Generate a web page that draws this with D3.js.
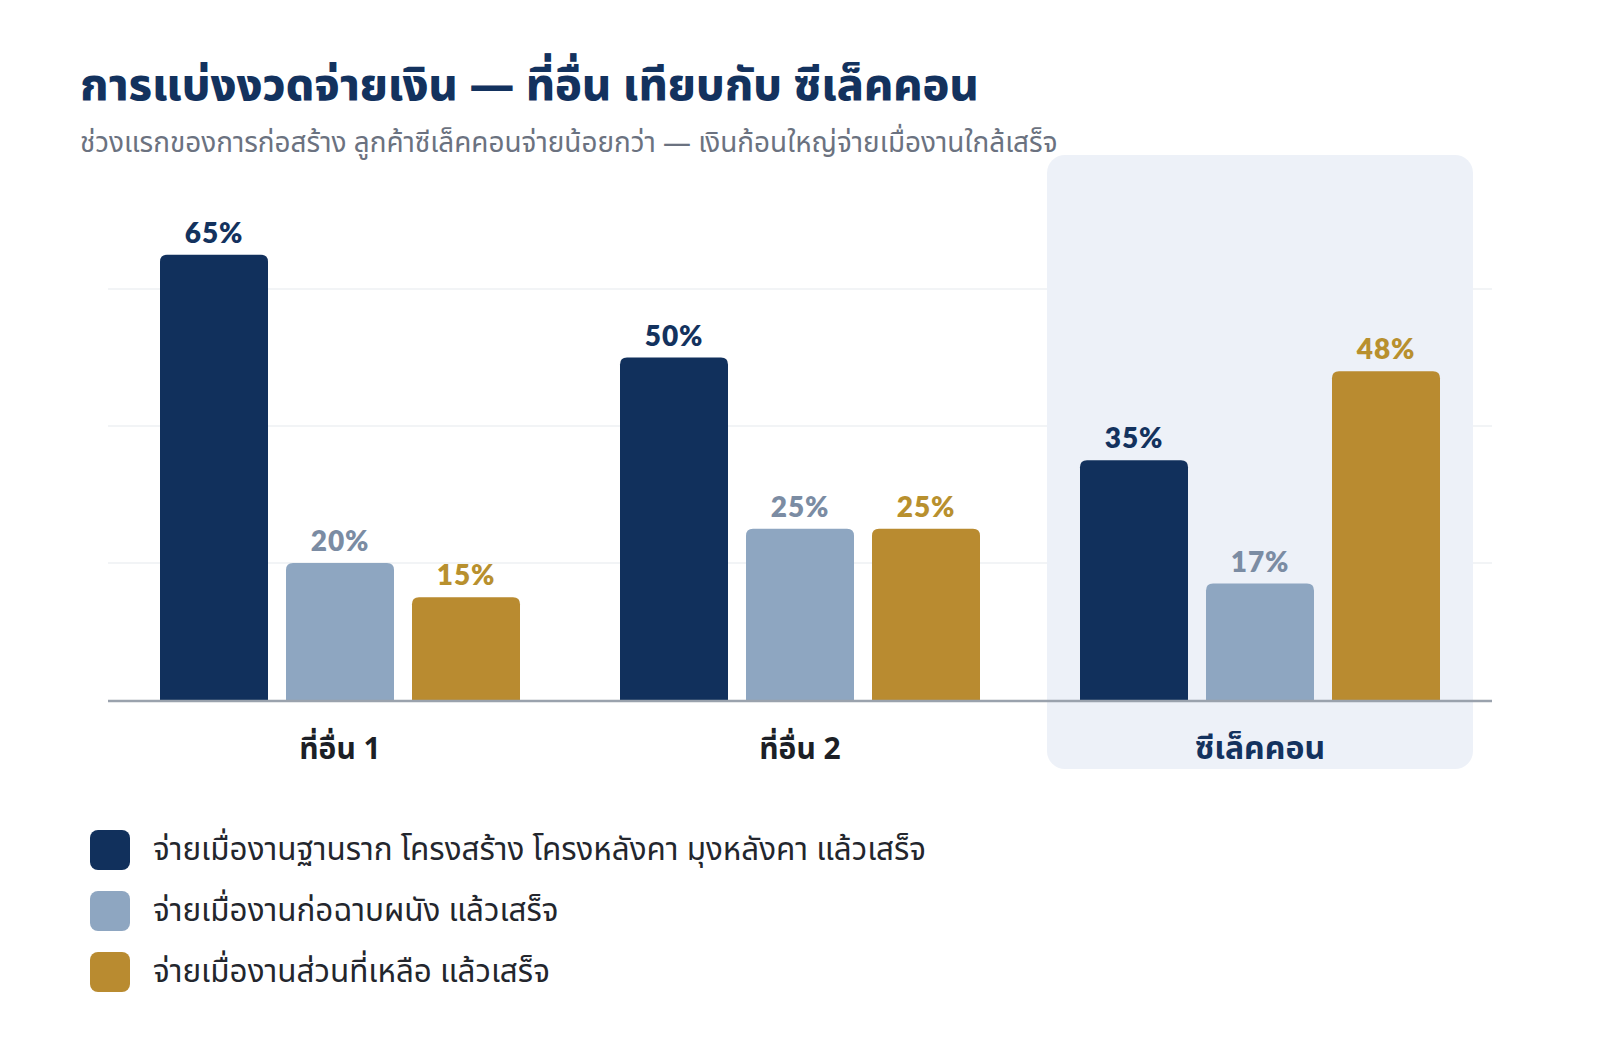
<!DOCTYPE html>
<html>
<head>
<meta charset="utf-8">
<script src="https://cdn.jsdelivr.net/npm/d3@7"></script>
<style>
  body { margin: 0; background: #fff; }
  svg { display: block; }
</style>
</head>
<body>
<div id="vis"></div>
<script>
///////data/////////////////////////////////////////////////
var categories = ["ที่อื่น 1", "ที่อื่น 2", "ซีเล็คคอน"];
var seriesNames = [
  "จ่ายเมื่องานฐานราก โครงสร้าง โครงหลังคา มุงหลังคา แล้วเสร็จ",
  "จ่ายเมื่องานก่อฉาบผนัง แล้วเสร็จ",
  "จ่ายเมื่องานส่วนที่เหลือ แล้วเสร็จ"
];
var stage1 = [65, 50, 35];
var stage2 = [20, 25, 17];
var stage3 = [15, 25, 48];
var gridTicks = [20, 40, 60];
var highlight = "ซีเล็คคอน";

///////setting up/////////////////////////////////////////////////
var width = 1600, height = 1060;
var barColors = ["#11305c", "#8ea6c1", "#b98b30"];
var labelColors = ["#13325e", "#7b8ca3", "#b8902e"];
var thai = "'Noto Sans Thai', 'Noto Sans', Lato, sans-serif";

const svg = d3.select("#vis").append("svg")
  .attr("width", width)
  .attr("height", height);

// title
svg.append("text")
  .attr("x", 80).attr("y", 100)
  .attr("font-family", thai)
  .attr("font-weight", 800)
  .attr("font-size", 44.8)
  .attr("fill", "#13325e")
  .text("การแบ่งงวดจ่ายเงิน — ที่อื่น เทียบกับ ซีเล็คคอน");

svg.append("text")
  .attr("x", 80).attr("y", 152)
  .attr("font-family", thai)
  .attr("font-size", 27.9)
  .attr("fill", "#6b7280")
  .text("ช่วงแรกของการก่อสร้าง ลูกค้าซีเล็คคอนจ่ายน้อยกว่า — เงินก้อนใหญ่จ่ายเมื่องานใกล้เสร็จ");

////////scales////////////////////////////////////
const x0 = d3.scaleBand().domain(categories).range([110, 1490]).padding(0);
const x1 = d3.scaleBand().domain(d3.range(3)).range([50, 410]).paddingInner(1 / 7).paddingOuter(0);
const y = d3.scaleLinear().domain([0, 60]).range([700, 289]);

// gridlines
svg.append("g").selectAll("line")
  .data(gridTicks)
  .join("line")
  .attr("x1", 108).attr("x2", 1492)
  .attr("y1", d => y(d)).attr("y2", d => y(d))
  .attr("stroke", "#eef0f3")
  .attr("stroke-width", 1.5);

// highlight panel
svg.append("rect")
  .attr("x", x0(highlight) + 17)
  .attr("y", 155)
  .attr("width", 426)
  .attr("height", 614)
  .attr("rx", 18)
  .attr("fill", "#edf1f8");

////////bars////////////////////////////////////
const rows = categories.map((c, i) => ({ cat: c, vals: [stage1[i], stage2[i], stage3[i]] }));

function topRounded(x, yTop, w, h, r) {
  r = Math.min(r, h);
  return `M${x},${yTop + h}V${yTop + r}Q${x},${yTop} ${x + r},${yTop}H${x + w - r}Q${x + w},${yTop} ${x + w},${yTop + r}V${yTop + h}Z`;
}

const groups = svg.append("g").selectAll("g")
  .data(rows)
  .join("g")
  .attr("transform", d => `translate(${x0(d.cat)},0)`);

groups.selectAll("path")
  .data(d => d.vals.map((v, k) => ({ k, v })))
  .join("path")
  .attr("fill", d => barColors[d.k])
  .attr("d", d => topRounded(x1(d.k), y(d.v), x1.bandwidth(), y(0) - y(d.v), 7));

groups.selectAll("text.val")
  .data(d => d.vals.map((v, k) => ({ k, v })))
  .join("text")
  .attr("class", "val")
  .attr("x", d => x1(d.k) + x1.bandwidth() / 2)
  .attr("y", d => y(d.v) - 12)
  .attr("text-anchor", "middle")
  .attr("font-family", "Lato, 'Noto Sans', sans-serif")
  .attr("font-weight", 800)
  .attr("font-size", 28)
  .attr("letter-spacing", 0.8)
  .attr("fill", d => labelColors[d.k])
  .text(d => d.v + "%");

// baseline
svg.append("line")
  .attr("x1", 108).attr("x2", 1492)
  .attr("y1", y(0) + 1).attr("y2", y(0) + 1)
  .attr("stroke", "#9aa2ad")
  .attr("stroke-width", 2.5);

// category labels
svg.append("g").selectAll("text")
  .data(categories)
  .join("text")
  .attr("x", d => x0(d) + x0.bandwidth() / 2)
  .attr("y", 759)
  .attr("text-anchor", "middle")
  .attr("font-family", thai)
  .attr("font-weight", 700)
  .attr("font-size", d => d === highlight ? 32 : 30)
  .attr("fill", d => d === highlight ? "#13325e" : "#1c1f26")
  .text(d => d);

////////legend////////////////////////////////////
const legend = svg.append("g").selectAll("g")
  .data(seriesNames)
  .join("g")
  .attr("transform", (d, i) => `translate(90,${830 + i * 61})`);

legend.append("rect")
  .attr("width", 40).attr("height", 40)
  .attr("rx", 8)
  .attr("fill", (d, i) => barColors[i]);

legend.append("text")
  .attr("x", 63).attr("y", 30)
  .attr("font-family", thai)
  .attr("font-size", 31.4)
  .attr("fill", "#23262d")
  .text(d => d);
</script>
</body>
</html>
